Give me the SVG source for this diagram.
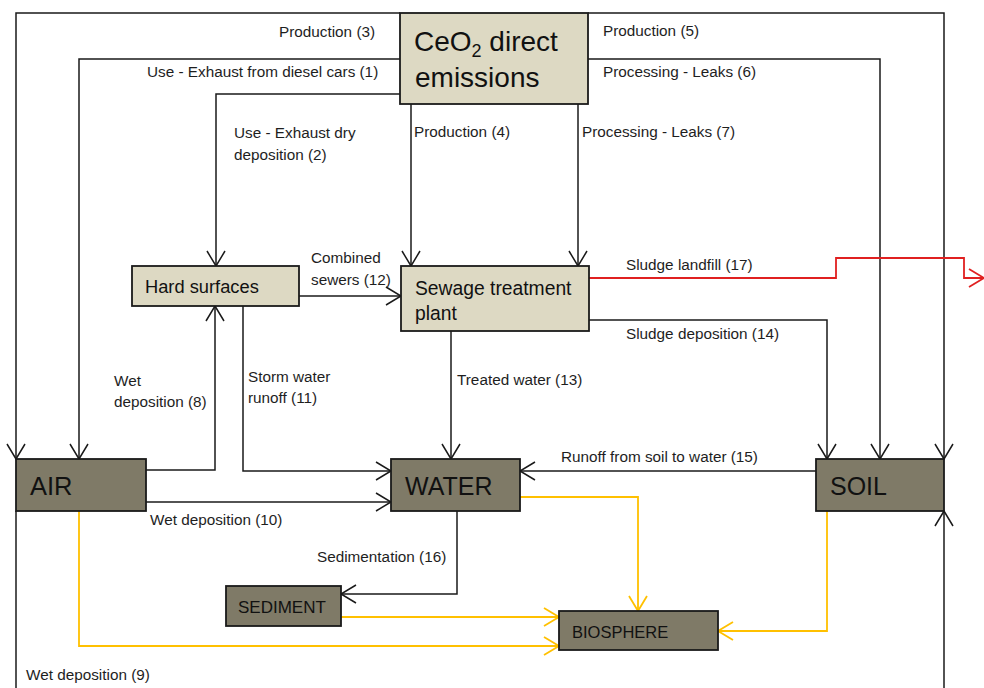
<svg xmlns="http://www.w3.org/2000/svg" width="984" height="688" viewBox="0 0 984 688">
<style>
.lbl{font-family:"Liberation Sans",Arial,sans-serif;font-size:15.3px;fill:#1e1e1e}
.light{fill:#ddd9c3;stroke:#1a1a1a;stroke-width:1.8}
.dark{fill:#7f7a67;stroke:#1a1a1a;stroke-width:1.8}
.ntxt{font-family:"Liberation Sans",Arial,sans-serif;fill:#111}
.c{fill:none;stroke:#1a1a1a;stroke-width:1.5;marker-end:url(#ab)}
.y{fill:none;stroke:#ffc000;stroke-width:1.8;marker-end:url(#ay)}
.r{fill:none;stroke:#e02020;stroke-width:1.8;marker-end:url(#ar)}
.plain{fill:none;stroke:#1a1a1a;stroke-width:1.5}
</style>
<defs>
<marker id="ab" viewBox="-18 -11 20 22" refX="0" refY="0" markerWidth="20" markerHeight="22" markerUnits="userSpaceOnUse" orient="auto"><path d="M-15,-9 L0,0 L-15,9" fill="none" stroke="#1a1a1a" stroke-width="1.5"/></marker>
<marker id="ay" viewBox="-18 -11 20 22" refX="0" refY="0" markerWidth="20" markerHeight="22" markerUnits="userSpaceOnUse" orient="auto"><path d="M-15,-9 L0,0 L-15,9" fill="none" stroke="#ffc000" stroke-width="1.8"/></marker>
<marker id="ar" viewBox="-18 -11 20 22" refX="0" refY="0" markerWidth="20" markerHeight="22" markerUnits="userSpaceOnUse" orient="auto"><path d="M-15,-9 L0,0 L-15,9" fill="none" stroke="#e02020" stroke-width="1.8"/></marker>
</defs>
<rect width="984" height="688" fill="#fff"/>
<g id="connectors">
<path class="c" d="M400,13 H16 V459"/>
<path class="c" d="M588,13 H944 V459"/>
<path class="c" d="M400,59 H79 V459"/>
<path class="c" d="M588,59 H880 V459"/>
<path class="c" d="M400,94 H216 V266"/>
<path class="c" d="M411,104 V266"/>
<path class="c" d="M578,104 V266"/>
<path class="c" d="M299,296 H401"/>
<path class="r" d="M589,278 H836 V258 H964 V278 H984"/>
<path class="c" d="M589,320 H827 V459"/>
<path class="c" d="M146,470 H215 V306"/>
<path class="c" d="M243,306 V471 H391"/>
<path class="c" d="M451,331 V459"/>
<path class="c" d="M146,502 H391"/>
<path class="c" d="M816,471 H520"/>
<path class="c" d="M457,511 V594 H341"/>
<path class="plain" d="M16,511 V688"/>
<path class="c" d="M944,688 V511"/>
<path class="y" d="M520,497 H638 V611"/>
<path class="y" d="M341,617 H559"/>
<path class="y" d="M79,511 V646 H559"/>
<path class="y" d="M827,511 V631 H718"/>
<g id="labels">
<text class="lbl" x="279" y="37">Production (3)</text>
<text class="lbl" x="603" y="36">Production (5)</text>
<text class="lbl" x="147" y="77">Use - Exhaust from diesel cars (1)</text>
<text class="lbl" x="603" y="77">Processing - Leaks (6)</text>
<text class="lbl" x="234" y="138">Use - Exhaust dry</text>
<text class="lbl" x="234" y="160">deposition (2)</text>
<text class="lbl" x="414" y="137">Production (4)</text>
<text class="lbl" x="582" y="137">Processing - Leaks (7)</text>
<text class="lbl" x="311" y="263">Combined</text>
<text class="lbl" x="311" y="285">sewers (12)</text>
<text class="lbl" x="626" y="270">Sludge landfill (17)</text>
<text class="lbl" x="626" y="339">Sludge deposition (14)</text>
<text class="lbl" x="114" y="386">Wet</text>
<text class="lbl" x="114" y="407">deposition (8)</text>
<text class="lbl" x="248" y="382">Storm water</text>
<text class="lbl" x="248" y="403">runoff (11)</text>
<text class="lbl" x="457" y="385">Treated water (13)</text>
<text class="lbl" x="561" y="462">Runoff from soil to water (15)</text>
<text class="lbl" x="150" y="525">Wet deposition (10)</text>
<text class="lbl" x="317" y="562">Sedimentation (16)</text>
<text class="lbl" x="26" y="680">Wet deposition (9)</text>
</g>
</g>
<g id="ceo2">
<rect class="light" x="400" y="13" width="188" height="91"/>
<text class="ntxt" x="414" y="51" font-size="28">CeO<tspan font-size="18" dy="6">2</tspan><tspan dy="-6"> direct</tspan></text>
<text class="ntxt" x="415" y="87" font-size="28">emissions</text>
</g>
<g id="hard-surfaces">
<rect class="light" x="132" y="266" width="167" height="40"/>
<text class="ntxt" x="145" y="293" font-size="18.3">Hard surfaces</text>
</g>
<g id="sewage">
<rect class="light" x="401" y="266" width="188" height="65"/>
<text class="ntxt" x="415" y="295" font-size="19.3">Sewage treatment</text>
<text class="ntxt" x="415" y="320" font-size="19.3">plant</text>
</g>
<g id="air">
<rect class="dark" x="16" y="459" width="130" height="52"/>
<text class="ntxt" x="30" y="495" font-size="25.5">AIR</text>
</g>
<g id="water">
<rect class="dark" x="391" y="459" width="129" height="52"/>
<text class="ntxt" x="405" y="495" font-size="25">WATER</text>
</g>
<g id="soil">
<rect class="dark" x="816" y="459" width="128" height="52"/>
<text class="ntxt" x="830" y="495" font-size="25">SOIL</text>
</g>
<g id="sediment">
<rect class="dark" x="226" y="586" width="115" height="40"/>
<text class="ntxt" x="238" y="613" font-size="17">SEDIMENT</text>
</g>
<g id="biosphere">
<rect class="dark" x="559" y="611" width="159" height="39"/>
<text class="ntxt" x="572" y="638" font-size="16.5">BIOSPHERE</text>
</g>
</svg>
